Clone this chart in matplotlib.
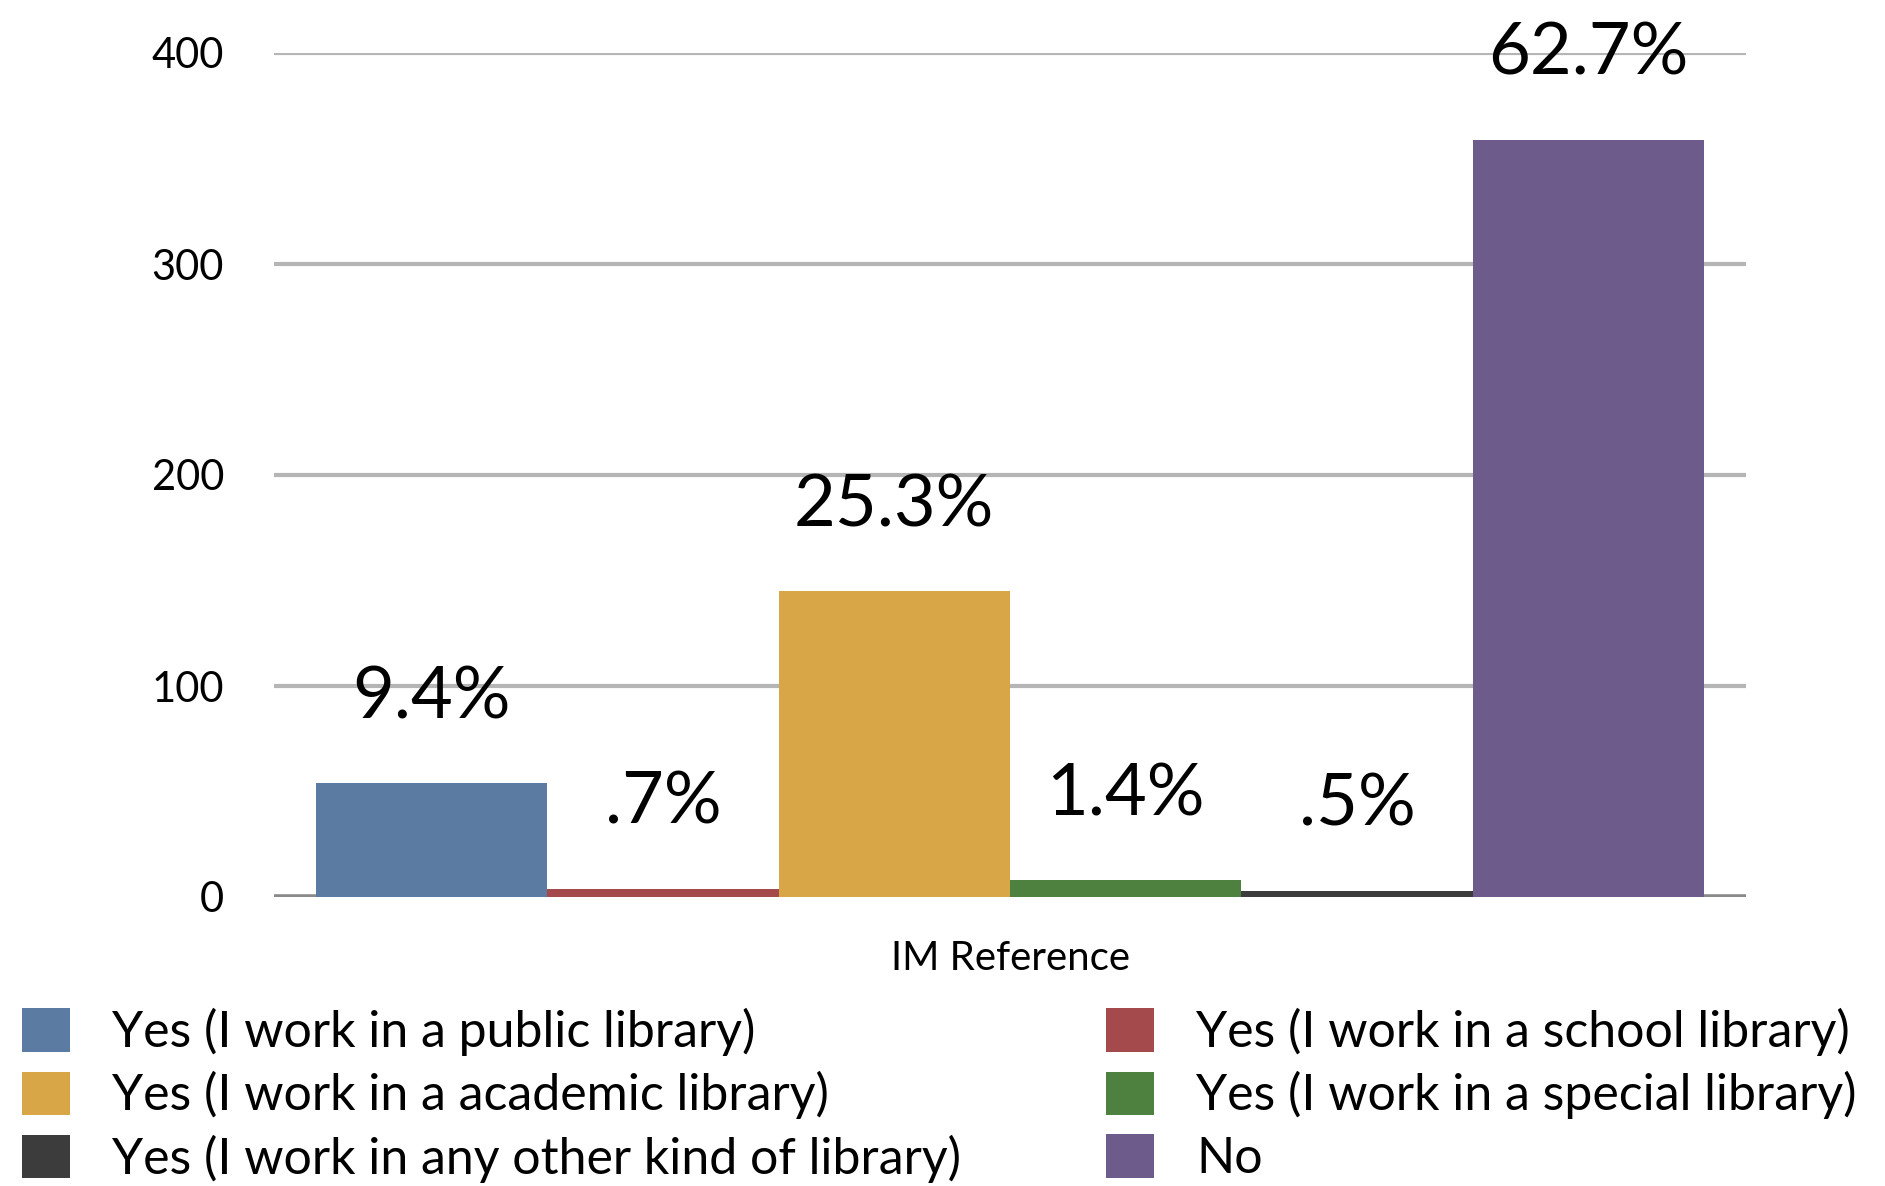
import matplotlib.pyplot as plt
from matplotlib.patches import Patch

plt.rcParams['font.family'] = ['Lato', 'DejaVu Sans']

categories = ["Yes (I work in a public library)",
              "Yes (I work in a school library)",
              "Yes (I work in a academic library)",
              "Yes (I work in a special library)",
              "Yes (I work in any other kind of library)",
              "No"]
counts = [54, 4, 145, 8, 3, 359]
pct_labels = ["9.4%", ".7%", "25.3%", "1.4%", ".5%", "62.7%"]
colors = ['#5b7ba3', '#a54a4c', '#d9a647', '#4e8040', '#3c3c3c', '#6d5b8c']
group_label = "IM Reference"
yticks = [0, 100, 200, 300, 400]

fig = plt.figure(figsize=(18.85, 11.86), dpi=100)
ax = fig.add_axes([274 / 1885, 1 - 897 / 1186, (1746 - 274) / 1885, (897 - 53) / 1186])

x = list(range(len(counts)))
bars = ax.bar(x, counts, width=1.0, color=colors, edgecolor='none', zorder=3)
ax.set_xlim(-0.5 - 0.18, len(counts) - 0.5 + 0.18)
ax.set_ylim(0, 400)

# labels sit a fixed distance above each bar
for xi, c, lab in zip(x, counts, pct_labels):
    ax.annotate(lab, (xi, c), xytext=(0, 38), textcoords='offset points',
                ha='center', va='bottom', fontsize=52, color='black', zorder=4,
                annotation_clip=False)

ax.set_yticks(yticks)
ax.set_yticklabels([str(t) for t in yticks], fontsize=30)
ax.tick_params(axis='y', length=0, pad=36)
ax.set_xticks([])
ax.grid(axis='y', color='#b5b5b5', linewidth=3, zorder=0)
ax.axhline(0, color='#8a8a8a', linewidth=4, zorder=2)
for s in ax.spines.values():
    s.set_visible(False)

fig.text((274 + 1746) / 2 / 1885, 1 - 958 / 1186, group_label,
         ha='center', va='center', fontsize=29)

order = [0, 2, 4, 1, 3, 5]
handles = [Patch(facecolor=colors[i], edgecolor='none') for i in order]
labels = [categories[i] for i in order]
fig.legend(handles, labels, ncol=2, loc='upper left',
           bbox_to_anchor=(22 / 1885, 1 - 1008 / 1186), frameon=False,
           fontsize=36, handlelength=0.95, handleheight=0.95,
           handletextpad=0.85, columnspacing=2.9, labelspacing=0.3,
           borderaxespad=0, borderpad=0)

fig.savefig('out.png', dpi=100)
